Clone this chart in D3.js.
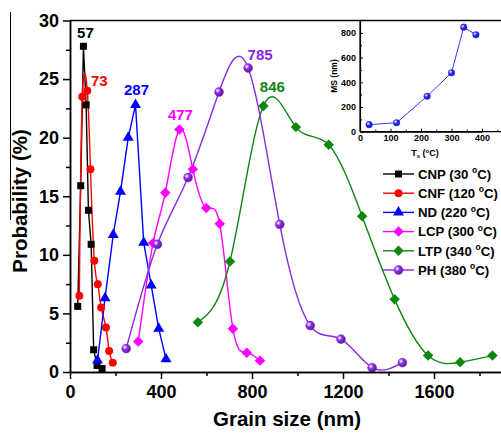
<!DOCTYPE html>
<html>
<head>
<meta charset="utf-8">
<script src="https://cdn.jsdelivr.net/npm/d3@7"></script>
<style>
  body { margin: 0; background: #fff; }
  svg { display: block; font-family: "Liberation Sans", Arial, sans-serif; font-weight: bold; }
</style>
</head>
<body>
<div id="chart"></div>
<script>
// grain size distributions (nm, %)
const cnpX = [34, 47, 59, 71, 81, 93, 104, 119, 141];
const cnpY = [5.6, 15.9, 27.8, 22.8, 13.8, 10.9, 1.9, 0.55, 0.3];
const cnfX = [41, 54, 76, 90, 107, 122, 137, 158, 172, 188];
const cnfY = [6.5, 23.5, 24.0, 17.3, 9.5, 7.5, 5.5, 3.8, 1.8, 0.8];
const ndX = [121, 154, 190, 222, 256, 288, 324, 357, 390, 422];
const ndY = [1.0, 6.3, 11.7, 15.4, 20.0, 22.8, 11.05, 7.4, 3.7, 1.1];
const lcpX = [300, 365, 419, 481, 540, 599, 658, 716, 777, 835];
const lcpY = [2.6, 11.0, 15.3, 20.7, 17.3, 14.0, 12.65, 3.7, 1.65, 0.97];
const ltpX = [562, 703, 850, 993, 1137, 1284, 1427, 1574, 1715, 1857];
const ltpY = [4.25, 9.43, 22.7, 20.9, 19.4, 13.3, 6.2, 1.4, 0.83, 1.4];
const phX = [247, 384, 519, 655, 783, 922, 1056, 1191, 1328, 1461];
const phY = [2.0, 10.9, 16.6, 23.9, 25.95, 12.6, 3.96, 2.8, 0.37, 0.8];

const seriesNames = ["CNP", "CNF", "ND", "LCP", "LTP", "PH"];
const seriesTemps = [30, 120, 220, 300, 340, 380];
const peakLabels = ["57", "73", "287", "477", "846", "785"];

// inset: mean size vs substrate temperature
const insetT = [30, 120, 220, 300, 340, 380];
const insetMS = [57, 73, 287, 477, 846, 785];

const xTicks = [0, 400, 800, 1200, 1600];
const xMinor = [200, 600, 1000, 1400, 1800];
const yTicks = [0, 5, 10, 15, 20, 25, 30];
const yMinor = [2.5, 7.5, 12.5, 17.5, 22.5, 27.5];

const W = 501, H = 433;
const svg = d3.select("#chart").append("svg").attr("width", W).attr("height", H);

const defs = svg.append("defs");
function sphereGrad(id, c) {
  const g = defs.append("radialGradient").attr("id", id)
    .attr("cx", "35%").attr("cy", "35%").attr("r", "65%");
  g.append("stop").attr("offset", "0%").attr("stop-color", "#fff");
  g.append("stop").attr("offset", "45%").attr("stop-color", c);
  g.append("stop").attr("offset", "100%").attr("stop-color", d3.color(c).darker(1.2));
}
sphereGrad("phBall", "#8a2be2");
sphereGrad("blueBall", "#2a2aff");

const series = [
  { xs: cnpX, ys: cnpY, color: "#000000", sym: "square", curve: d3.curveLinear, dx: 2, dy: -8 },
  { xs: cnfX, ys: cnfY, color: "#ff0000", sym: "circle", curve: d3.curveNatural, dx: 12, dy: -5 },
  { xs: ndX, ys: ndY, color: "#0000ff", sym: "triangle", curve: d3.curveLinear, dx: 1, dy: -10 },
  { xs: lcpX, ys: lcpY, color: "#ff00ff", sym: "diamond", curve: d3.curveNatural, dx: 1, dy: -9 },
  { xs: ltpX, ys: ltpY, color: "#0f870f", sym: "diamond", curve: d3.curveNatural, dx: 9, dy: -14 },
  { xs: phX, ys: phY, color: "#8a2be2", sym: "ball", curve: d3.curveNatural, dx: 12, dy: -8 },
].map((s, i) => ({
  ...s,
  name: seriesNames[i],
  temp: seriesTemps[i],
  label: peakLabels[i],
  pts: s.xs.map((x, j) => ({ x: x, y: s.ys[j] })),
}));

const x = d3.scaleLinear().domain([0, 1900]).range([70, 70 + 1900 * 0.2275]);
const y = d3.scaleLinear().domain([0, 30]).range([372, 20.5]);

svg.append("rect").attr("width", W).attr("height", H).attr("fill", "#fff");

// stray panel border line on the far left
svg.append("line").attr("x1", 10.5).attr("x2", 10.5).attr("y1", 12).attr("y2", 220)
  .attr("stroke", "#000").attr("stroke-width", 1);

function drawMarker(sel, sym, color, size) {
  if (sym === "ball") {
    sel.append("circle").attr("r", size * 0.56).attr("fill", "url(#phBall)")
      .attr("stroke", color).attr("stroke-width", 0.5);
    return;
  }
  const t = { square: d3.symbolSquare, circle: d3.symbolCircle, triangle: d3.symbolTriangle, diamond: d3.symbolDiamond2 }[sym];
  const area = { square: 49, circle: 50, triangle: 52, diamond: 70 }[sym] * (size / 8) * (size / 8);
  sel.append("path").attr("d", d3.symbol(t, area)()).attr("fill", color);
}

// data lines
const line = d3.line().x((d) => x(d.x)).y((d) => y(d.y));
series.forEach((s) => {
  svg.append("path")
    .datum(s.pts)
    .attr("fill", "none")
    .attr("stroke", s.color)
    .attr("stroke-width", 1.4)
    .attr("d", line.curve(s.curve));
});
series.forEach((s) => {
  s.pts.forEach((p) => {
    const g = svg.append("g").attr("transform", `translate(${x(p.x)},${y(p.y)})`);
    drawMarker(g, s.sym, s.color, 8);
  });
});

// peak labels
series.forEach((s) => {
  const peak = s.pts.reduce((a, b) => (b.y > a.y ? b : a));
  svg.append("text")
    .attr("x", x(peak.x) + s.dx)
    .attr("y", y(peak.y) + s.dy)
    .attr("text-anchor", "middle")
    .attr("font-size", 15)
    .attr("fill", s.color)
    .text(s.label);
});

// main axes
const axisX = svg.append("g").attr("transform", `translate(0,${y(0)})`)
  .call(d3.axisBottom(x).tickValues(xTicks).tickFormat(d3.format("d")).tickSize(7).tickSizeOuter(0).tickPadding(6));
svg.append("g").attr("transform", `translate(0,${y(0)})`)
  .call(d3.axisBottom(x).tickValues(xMinor).tickSize(4).tickSizeOuter(0).tickFormat(""));
const axisY = svg.append("g").attr("transform", `translate(${x(0)},0)`)
  .call(d3.axisLeft(y).tickValues(yTicks).tickSize(7).tickSizeOuter(0).tickPadding(4));
svg.append("g").attr("transform", `translate(${x(0)},0)`)
  .call(d3.axisLeft(y).tickValues(yMinor).tickSize(4).tickSizeOuter(0).tickFormat(""));
svg.selectAll(".domain, .tick line").attr("stroke", "#000").attr("stroke-width", 1.5);
axisX.selectAll("text").attr("font-size", 18).attr("font-family", null).attr("fill", "#000");
axisY.selectAll("text").attr("font-size", 18).attr("font-family", null).attr("fill", "#000");

svg.append("text").attr("x", 287).attr("y", 426).attr("text-anchor", "middle")
  .attr("font-size", 20.5).text("Grain size (nm)");
svg.append("text").attr("transform", "translate(27,201) rotate(-90)")
  .attr("text-anchor", "middle").attr("font-size", 20.5).text("Probability (%)");

// inset
const ix = d3.scaleLinear().domain([0, 400]).range([360, 482]);
const iy = d3.scaleLinear().domain([0, 900]).range([131.7, 20.5]);
const inset = svg.append("g");
inset.append("rect").attr("x", 360).attr("y", 20.5).attr("width", W - 360).attr("height", 111.2).attr("fill", "#fff");
inset.append("path")
  .datum(insetT.map((t, i) => ({ t: t, v: insetMS[i] })))
  .attr("fill", "none").attr("stroke", "#3a3aff").attr("stroke-width", 1)
  .attr("d", d3.line().x((d) => ix(d.t)).y((d) => iy(d.v)));
insetT.forEach((t, i) => {
  inset.append("circle").attr("cx", ix(t)).attr("cy", iy(insetMS[i])).attr("r", 3.3)
    .attr("fill", "url(#blueBall)").attr("stroke", "#2020e0").attr("stroke-width", 0.4);
});
const iax = inset.append("g").attr("transform", `translate(0,${iy(0)})`)
  .call(d3.axisBottom(ix).tickValues([0, 100, 200, 300, 400]).tickSizeInner(-3).tickSizeOuter(0).tickPadding(3));
inset.append("g").attr("transform", `translate(0,${iy(0)})`)
  .call(d3.axisBottom(ix).tickValues([50, 150, 250, 350, 450]).tickSizeInner(-2).tickSizeOuter(0).tickFormat(""));
const iay = inset.append("g").attr("transform", `translate(${ix(0)},0)`)
  .call(d3.axisLeft(iy).tickValues([0, 200, 400, 600, 800]).tickSizeInner(-3).tickSizeOuter(0).tickPadding(4));
inset.append("g").attr("transform", `translate(${ix(0)},0)`)
  .call(d3.axisLeft(iy).tickValues([100, 300, 500, 700]).tickSizeInner(-2).tickSizeOuter(0).tickFormat(""));
inset.selectAll(".domain, .tick line").attr("stroke", "#000").attr("stroke-width", 1);
inset.selectAll(".domain").attr("stroke-width", 1.2);
inset.selectAll("text").attr("font-size", 9).attr("font-family", null).attr("fill", "#000");
iax.select(".domain").attr("d", `M360,0H${W}`);
iay.select(".domain").attr("d", `M0,${iy(0)}V20.5`);

// top frame
svg.append("line").attr("x1", x(0)).attr("x2", W).attr("y1", y(30)).attr("y2", y(30))
  .attr("stroke", "#000").attr("stroke-width", 1.5);

const ts = inset.append("text").attr("x", 425).attr("y", 156).attr("text-anchor", "middle").attr("font-size", 9);
ts.append("tspan").text("T");
ts.append("tspan").attr("font-size", 6).attr("dy", 2).text("s");
ts.append("tspan").attr("dy", -2).text(" (");
ts.append("tspan").attr("font-size", 6).attr("dy", -3).text("o");
ts.append("tspan").attr("dy", 3).text("C)");
inset.append("text").attr("transform", "translate(337,76) rotate(-90)")
  .attr("text-anchor", "middle").attr("font-size", 8.5).text("MS (nm)");

// legend
const legend = svg.append("g").selectAll("g").data(series).join("g")
  .attr("transform", (d, i) => `translate(383,${174 + i * 19.2})`);
legend.append("line").attr("x1", 0).attr("x2", 31)
  .attr("stroke", (d) => d.color).attr("stroke-width", 1.4);
legend.each(function (d) {
  const g = d3.select(this).append("g").attr("transform", "translate(15.5,0)");
  drawMarker(g, d.sym, d.color, 8);
});
const lt = legend.append("text").attr("x", 35).attr("dy", "0.36em").attr("font-size", 13.2).attr("fill", "#000");
lt.append("tspan").text((d) => `${d.name} (${d.temp} `);
lt.append("tspan").attr("font-size", 8.5).attr("dy", -5.5).text("o");
lt.append("tspan").attr("dy", 5.5).text("C)");
</script>
</body>
</html>
